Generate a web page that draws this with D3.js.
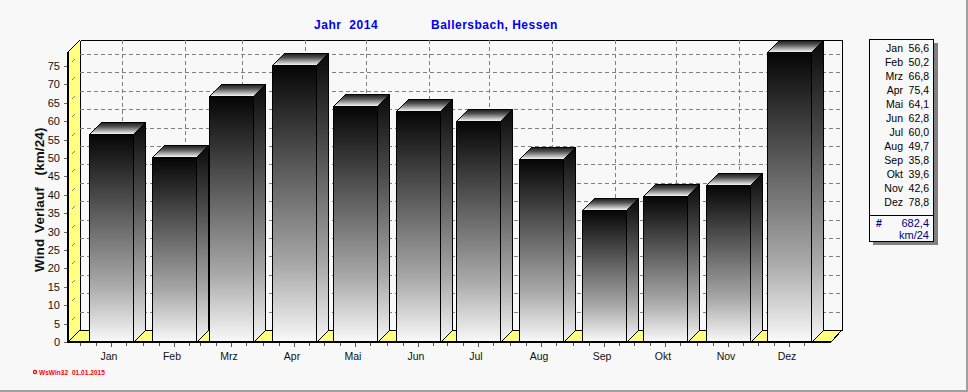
<!DOCTYPE html>
<html><head><meta charset="utf-8">
<script src="https://cdn.jsdelivr.net/npm/d3@7"></script>
<style>
html,body{margin:0;padding:0;background:#f8f8f8;overflow:hidden}
svg{display:block}
text{font-family:"Liberation Sans",Arial,sans-serif}
</style></head><body>
<svg id="c" width="968" height="392"></svg>
<script>
const months=["Jan","Feb","Mrz","Apr","Mai","Jun","Jul","Aug","Sep","Okt","Nov","Dez"];
const windValues=[56.6,50.2,66.8,75.4,64.1,62.8,60.0,49.7,35.8,39.6,42.6,78.8];
const yTicks=[0,5,10,15,20,25,30,35,40,45,50,55,60,65,70,75];
const legendValues=["56,6","50,2","66,8","75,4","64,1","62,8","60,0","49,7","35,8","39,6","42,6","78,8"];
const totalValue="682,4";
const totalUnit="km/24";
const yearLabel="Jahr  2014";
const placeLabel="Ballersbach, Hessen";
const yTitle="Wind Verlauf  (km/24)";
const footer="WsWin32  01.01.2015";

const svg=d3.select("#c");
const depth=12, barW=44;
const leftX=68, rightX=831, base=342, topY=52;
const x=d3.scaleUtc().domain([new Date(Date.UTC(2014,0,1)),new Date(Date.UTC(2015,0,1))]).range([89,830]);
const y=d3.scaleLinear().domain([0,78.8]).range([base,topY]);
const mx=i=>Math.round(x(new Date(Date.UTC(2014,i,1))));

const defs=svg.append("defs");
function grad(id,stops){
  const g=defs.append("linearGradient").attr("id",id).attr("x1",0).attr("y1",0).attr("x2",0).attr("y2",1);
  stops.forEach(([o,c])=>g.append("stop").attr("offset",o).attr("stop-color",c));
}
grad("front",[[0,"#050505"],[.3,"#4a4a4a"],[.72,"#a8a8a8"],[1,"#fafafa"]]);
grad("side",[[0,"#0a0a0a"],[.33,"#4d4d4d"],[.73,"#a8a8a8"],[1,"#f6f6f6"]]);
grad("topf",[[0,"#1a1a1a"],[.35,"#555"],[1,"#fff"]]);

const line=(sel,x1,y1,x2,y2,stroke,w,dash)=>sel.append("line").attr("x1",x1).attr("y1",y1).attr("x2",x2).attr("y2",y2)
  .attr("stroke",stroke).attr("stroke-width",w||1).attr("stroke-dasharray",dash||null).attr("shape-rendering","crispEdges");
const poly=(sel,pts,fill,stroke,w)=>sel.append("polygon").attr("points",pts.map(p=>p.join(",")).join(" "))
  .attr("fill",fill).attr("stroke",stroke||"none").attr("stroke-width",w||1).attr("shape-rendering","crispEdges");

// outer frame edges
line(svg,0,391,968,391,"#a0a0a0",2);
line(svg,967,0,967,392,"#a0a0a0",2);

// walls
const walls=svg.append("g");
poly(walls,[[leftX,topY],[leftX+depth,topY-depth],[leftX+depth,base-depth],[leftX,base]],"#ffff80","none");
poly(walls,[[leftX,base],[leftX+depth,base-depth],[rightX+depth-1,base-depth],[rightX,base]],"#ffff80","none");

// grid
const grid=svg.append("g");
yTicks.slice(1).forEach(t=>{
  const gy=Math.round(y(t));
  line(grid,leftX+depth,gy-depth+.5,rightX+depth-1,gy-depth+.5,"#808080",1,"4,3");
  line(grid,leftX,gy,leftX+depth,gy-depth,"#808080",1,"0 6 4 20");
});
months.forEach((m,i)=>{
  const gx=mx(i)+barW/2+depth-1+.5;
  line(grid,gx,topY-depth,gx,base-depth,"#808080",1,"4,3");
});

// wall borders
const bl=leftX+depth+.5, br=rightX+depth-1+.5, bt=topY-depth+.5, bb=base-depth+.5;
line(walls,bl,bt,br,bt,"#000",1);
line(walls,bl,bt,bl,bb,"#000",1);
line(walls,br,bt,br,bb,"#000",1);
line(walls,bl,bb,br,bb,"#000",1);
line(walls,leftX,topY,leftX+depth,topY-depth,"#000",1);
line(walls,leftX,base,leftX+depth,base-depth,"#000",1);
line(walls,rightX,base,rightX+depth-1,base-depth,"#000",1);

// bars
const bars=svg.append("g").selectAll("g").data(windValues).join("g");
bars.each(function(v,i){
  const g=d3.select(this), a=mx(i)+.5, b=a+barW, t=Math.round(y(v))+.5, bo=base+.5;
  poly(g,[[b,t],[b+depth,t-depth],[b+depth,bo-depth],[b,bo]],"url(#side)","#000",1);
  poly(g,[[a,t],[a+depth,t-depth],[b+depth,t-depth],[b,t]],"url(#topf)","#000",1);
  g.append("rect").attr("x",a).attr("y",t).attr("width",barW).attr("height",bo-t)
    .attr("fill","url(#front)").attr("stroke","#000").attr("stroke-width",1).attr("shape-rendering","crispEdges");
});

// axes
const yAxis=d3.axisLeft(y).tickValues(yTicks).tickSize(4).tickPadding(4).tickFormat(d3.format("d"));
const yg=svg.append("g").attr("transform",`translate(${leftX},0)`).call(yAxis);
yg.select(".domain").remove();
yg.selectAll("text").attr("font-size",11).attr("fill","#111").attr("font-family","Liberation Sans");
yg.selectAll("line").attr("stroke","#666").attr("shape-rendering","crispEdges");
line(svg,leftX,topY,leftX,base+1,"#000",2);
line(svg,leftX,base,rightX,base,"#000",2);

const ticksG=svg.append("g");
months.forEach((m,i)=>{
  const c=mx(i)+barW/2;
  [-30.8,-15.4,0,15.4].forEach(off=>{
    const tx=Math.round(c+off)+.5;
    line(ticksG,tx,base+1,tx,base+(off===0?5:4),"#555",1);
  });
  ticksG.append("text").attr("x",c-2).attr("y",360).attr("text-anchor","middle")
    .attr("font-size",10.5).attr("fill","#111").text(m);
});

// titles
svg.append("text").attr("x",314).attr("y",29).attr("fill","#0000f0").attr("font-weight","bold")
  .attr("font-size",12).attr("letter-spacing",.55).style("white-space","pre").text(yearLabel);
svg.append("text").attr("x",431).attr("y",29).attr("fill","#0000f0").attr("font-weight","bold")
  .attr("font-size",12).attr("letter-spacing",.5).text(placeLabel);
svg.append("text").attr("transform","translate(44,272) rotate(-90)").attr("font-weight","bold")
  .attr("font-size",13.5).attr("fill","#111").attr("letter-spacing",.1).attr("word-spacing",2).style("white-space","pre").text(yTitle);

// footer
svg.append("circle").attr("cx",35).attr("cy",372).attr("r",1.6).attr("fill","none").attr("stroke","#f00").attr("stroke-width",1.2);
svg.append("text").attr("x",39).attr("y",374.5).attr("fill","#f00").attr("font-weight","bold")
  .attr("font-size",6.5).attr("letter-spacing",.05).style("white-space","pre").text(footer);

// legend
const lg=svg.append("g");
lg.append("rect").attr("x",873).attr("y",43).attr("width",65).attr("height",202).attr("fill","#808080");
lg.append("rect").attr("x",869.5).attr("y",39.5).attr("width",64).attr("height",202).attr("fill","#f8f8f8").attr("stroke","#000").attr("shape-rendering","crispEdges");
line(lg,870,215.5,934,215.5,"#000",1);
months.forEach((m,i)=>{
  const yy=52+i*14;
  lg.append("text").attr("x",903).attr("y",yy).attr("text-anchor","end").attr("font-size",10.5).attr("fill","#000").text(m);
  lg.append("text").attr("x",929).attr("y",yy).attr("text-anchor","end").attr("font-size",10.5).attr("fill","#000").text(legendValues[i]);
});
lg.append("text").attr("x",876).attr("y",227).attr("font-size",10.5).attr("font-weight","bold").attr("fill","#000080").text("#");
lg.append("text").attr("x",929).attr("y",227).attr("text-anchor","end").attr("font-size",11).attr("fill","#000080").text(totalValue);
lg.append("text").attr("x",929).attr("y",239).attr("text-anchor","end").attr("font-size",11).attr("fill","#000080").text(totalUnit);
</script>
</body></html>
